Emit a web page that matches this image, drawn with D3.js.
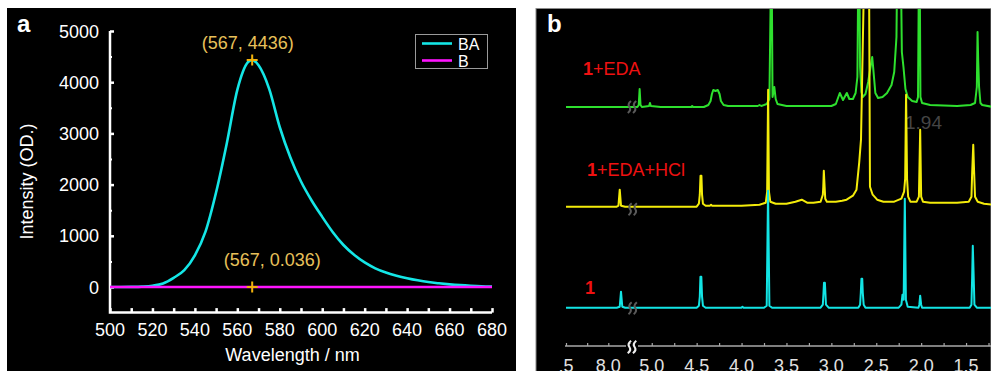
<!DOCTYPE html>
<html>
<head>
<meta charset="utf-8">
<script src="https://cdn.jsdelivr.net/npm/d3@7/dist/d3.min.js"></script>
<style>
  html, body { margin: 0; padding: 0; background: #ffffff; }
  svg { display: block; font-family: "Liberation Sans", Arial, Helvetica, sans-serif; }
</style>
</head>
<body>
<script>
// ---------------- Panel a data ----------------
const wavelengthBA = [500,505,510,515,520,525,530,535,540,545,550,555,560,565,567,570,575,580,585,590,595,600,605,610,615,620,625,630,635,640,645,650,655,660,665,670,675,680];
const intensityBA  = [0,0,2,8,25,70,180,330,620,1080,1850,2800,3850,4390,4436,4330,3870,3120,2530,2060,1690,1370,1070,820,630,480,365,283,222,172,130,96,72,52,36,24,15,10];
const wavelengthB  = [500,567,680];
const intensityB   = [0,0.036,0];
const seriesNames  = ["BA","B"];
const xTicksA      = [500,520,540,560,580,600,620,640,660,680];
const xMinorA      = [510,530,550,570,590,610,630,650,670];
const yTicksA      = [0,1000,2000,3000,4000,5000];
const yMinorA      = [500,1500,2500,3500,4500];
const peakMarks    = [[567,4436,"(567, 4436)"],[567,0.036,"(567, 0.036)"]];

// ---------------- Panel b data (ppm, height) ----------------
const specLabels   = ["1+EDA","1+EDA+HCl","1"];
const specOffsets  = [200.7, 101, 0];
const spec1 = [[8.5,0],[7.9,0],[7.865,1],[7.85,16],[7.835,1],[7.8,0],[7.72,0],[5.22,0],[4.5,0],[4.475,2],[4.465,11],[4.458,31],[4.448,31],[4.44,11],[4.43,2],[4.40,0],[4.0,0],[3.99,1],[3.98,0],[3.75,0],[3.72,2],[3.705,117],[3.69,2],[3.66,0],[3.12,0],[3.095,3],[3.088,14],[3.082,25],[3.072,25],[3.066,14],[3.06,3],[3.03,0],[2.70,0],[2.68,3],[2.672,15],[2.665,29],[2.656,29],[2.65,15],[2.64,3],[2.62,0],[2.25,0],[2.22,3],[2.208,13],[2.195,8],[2.182,109],[2.17,8],[2.15,1],[2.03,0],[2.02,3],[2.011,12],[2.0,3],[1.99,0],[1.46,0],[1.44,3],[1.432,31],[1.425,62],[1.415,31],[1.407,3],[1.38,0],[1.2,0]];
const spec2 = [[8.5,0],[7.9,0],[7.88,1],[7.865,17],[7.85,1],[7.8,0],[7.72,0],[5.22,0],[4.5,0],[4.475,3],[4.465,12],[4.457,31],[4.447,31],[4.44,12],[4.43,3],[4.40,1],[4.35,1],[4.34,2],[4.33,1],[4.0,1],[3.8,2],[3.73,4],[3.715,15],[3.704,117],[3.695,15],[3.68,5],[3.62,3],[3.5,3],[3.4,5],[3.33,7],[3.27,4],[3.2,4],[3.12,5],[3.095,12],[3.09,20],[3.084,36],[3.075,20],[3.068,8],[3.05,5],[2.95,5],[2.88,6],[2.83,7],[2.76,11],[2.72,17],[2.69,44],[2.67,67],[2.615,330],[2.60,340],[2.585,330],[2.57,20],[2.54,12],[2.49,7],[2.42,5],[2.3,5],[2.22,8],[2.19,15],[2.178,28],[2.168,112],[2.157,28],[2.145,10],[2.12,5],[2.05,5],[2.025,10],[2.011,77],[2.0,10],[1.98,5],[1.9,4],[1.6,4],[1.47,5],[1.44,10],[1.432,34],[1.42,62],[1.41,34],[1.40,10],[1.37,5],[1.3,3],[1.2,2]];
const spec3 = [[8.5,0],[7.72,0],[5.22,0],[5.16,0],[5.145,2],[5.135,18],[5.125,2],[5.11,0],[5.03,1],[5.02,4],[5.01,1],[4.9,0],[4.56,0],[4.55,1],[4.54,0],[4.42,0],[4.37,2],[4.345,6],[4.33,13],[4.315,17],[4.29,16],[4.265,17],[4.245,13],[4.23,6],[4.2,2],[4.15,1],[3.82,1],[3.80,2],[3.78,1],[3.72,3],[3.69,8],[3.667,170],[3.655,10],[3.635,20],[3.62,8],[3.6,3],[3.5,1],[3.0,1],[2.95,3],[2.93,8],[2.906,14],[2.87,7],[2.828,14],[2.80,8],[2.76,8],[2.73,14],[2.71,30],[2.694,200],[2.68,40],[2.665,15],[2.65,10],[2.62,13],[2.59,25],[2.555,45],[2.545,50],[2.535,40],[2.51,14],[2.48,9],[2.43,10],[2.38,14],[2.33,22],[2.30,35],[2.275,70],[2.26,200],[2.248,150],[2.234,200],[2.215,55],[2.197,40],[2.175,18],[2.15,10],[2.10,6],[2.05,5],[2.035,10],[2.02,200],[2.008,10],[1.99,4],[1.9,2],[1.6,1],[1.45,2],[1.40,4],[1.38,20],[1.372,75],[1.365,47],[1.355,20],[1.34,4],[1.32,2],[1.2,0]];
const nmrTickValues = [8.5,8.0,5.0,4.5,4.0,3.5,3.0,2.5,2.0,1.5];
const nmrTickLabels = [".5","8.0","5.0","4.5","4.0","3.5","3.0","2.5","2.0","1.5"];
const nmrMinorTicks = [8.25,7.75,4.75,4.25,3.75,3.25,2.75,2.25,1.75,1.25];
const annotation194 = "1.94";

// ---------------- drawing ----------------
const W = 991, H = 371;
const svg = d3.select("body").append("svg").attr("width", W).attr("height", H);
svg.append("rect").attr("x",0).attr("y",0).attr("width",W).attr("height",H).attr("fill","#ffffff");

// ===== Panel a =====
const gA = svg.append("g");
gA.append("rect").attr("x",7).attr("y",8).attr("width",509).attr("height",H-8).attr("fill","#000");
gA.append("text").attr("x",17).attr("y",32).attr("fill","#fff").attr("font-size",24).attr("font-weight","bold").text("a");

const xA = d3.scaleLinear().domain([500,680]).range([110,492]);
const yA = d3.scaleLinear().domain([-500,5000]).range([312.6,31]);

const axisColor = "#ffffff";
gA.append("path").attr("d",`M${xA(500)},${yA(5000)}V${yA(-500)}H${xA(680)}`)
  .attr("fill","none").attr("stroke",axisColor).attr("stroke-width",2.5);

const yAxisA = d3.axisRight(yA).tickValues(yTicksA).tickSize(4).tickFormat("");
const gy = gA.append("g").attr("transform",`translate(${xA(500)},0)`).call(yAxisA);
gy.select(".domain").remove();
gy.selectAll("line").attr("stroke",axisColor).attr("stroke-width",2.5);
const yAxisMinor = d3.axisRight(yA).tickValues(yMinorA).tickSize(2).tickFormat("");
const gym = gA.append("g").attr("transform",`translate(${xA(500)},0)`).call(yAxisMinor);
gym.select(".domain").remove();
gym.selectAll("line").attr("stroke",axisColor).attr("stroke-width",2);
gA.selectAll(".ylab").data(yTicksA).enter().append("text")
  .attr("x",99).attr("y",d=>yA(d)+6.5).attr("text-anchor","end")
  .attr("fill","#fff").attr("font-size",18).text(d=>d);

const xAxisA = d3.axisTop(xA).tickValues(xTicksA.concat(xMinorA)).tickSize(4.5).tickFormat("");
const gx = gA.append("g").attr("transform",`translate(0,${yA(-500)})`).call(xAxisA);
gx.select(".domain").remove();
gx.selectAll("line").attr("stroke",axisColor).attr("stroke-width",2.5);
gA.selectAll(".xlab").data(xTicksA).enter().append("text")
  .attr("x",d=>xA(d)).attr("y",336).attr("text-anchor","middle")
  .attr("fill","#fff").attr("font-size",18).text(d=>d);

gA.append("text").attr("x",292.5).attr("y",361).attr("text-anchor","middle")
  .attr("fill","#fff").attr("font-size",18).text("Wavelength / nm");
gA.append("text").attr("transform","translate(33,181.5) rotate(-90)").attr("text-anchor","middle")
  .attr("fill","#fff").attr("font-size",18).text("Intensity (OD.)");

const lineA = d3.line().x(d=>xA(d[0])).y(d=>yA(d[1])).curve(d3.curveMonotoneX);
const dataBA = wavelengthBA.map((w,i)=>[w,intensityBA[i]]);
const dataB  = wavelengthB.map((w,i)=>[w,intensityB[i]]);
const colBA = "#14e6e6", colB = "#ff14ff";
gA.append("path").datum(dataBA).attr("d",lineA).attr("fill","none").attr("stroke",colBA).attr("stroke-width",2.6);
gA.append("path").datum(dataB).attr("d",d3.line().x(d=>xA(d[0])).y(d=>yA(d[1]))).attr("fill","none").attr("stroke",colB).attr("stroke-width",2.6);

const markCol = "#f2b20c", labCol = "#e8c05a";
peakMarks.forEach((p,i)=>{
  const cx = xA(p[0]), cy = yA(p[1]);
  gA.append("path").attr("d",`M${cx-5.5},${cy}H${cx+5.5}M${cx},${cy-5.5}V${cy+5.5}`)
    .attr("stroke",markCol).attr("stroke-width",2);
  if (i===0) {
    gA.append("text").attr("x",cx-4.5).attr("y",cy-11).attr("text-anchor","middle")
      .attr("fill",labCol).attr("font-size",18).text(p[2]);
  } else {
    gA.append("text").attr("x",cx+20).attr("y",cy-21).attr("text-anchor","middle")
      .attr("fill",labCol).attr("font-size",18).text(p[2]);
  }
});

const lg = gA.append("g");
lg.append("rect").attr("x",415.5).attr("y",34.5).attr("width",72).attr("height",34)
  .attr("fill","#000").attr("stroke","#9a9a9a").attr("stroke-width",1);
[colBA,colB].forEach((c,i)=>{
  const yy = 43.5 + i*17;
  lg.append("line").attr("x1",422).attr("x2",452).attr("y1",yy).attr("y2",yy).attr("stroke",c).attr("stroke-width",2.6);
  lg.append("text").attr("x",458).attr("y",yy+6).attr("fill","#fff").attr("font-size",16).text(seriesNames[i]);
});

// ===== Panel b =====
const gB = svg.append("g");
gB.append("rect").attr("x",536).attr("y",8.5).attr("width",W-536).attr("height",H-8).attr("fill","#000")
  .attr("stroke","#8a8a8a").attr("stroke-width",1);
gB.append("text").attr("x",547).attr("y",32).attr("fill","#fff").attr("font-size",24).attr("font-weight","bold").text("b");

svg.append("defs").append("clipPath").attr("id","clipB").append("rect")
  .attr("x",537).attr("y",9).attr("width",W-537).attr("height",H-9);

const xN = d3.scaleLinear().domain([8.5,7.72,5.22,1.2]).range([566,632,632,993]);
const yN = d3.scaleLinear().domain([0,300]).range([307.7,7.7]);
const breakX = xN(5.22);

gB.append("text").attr("x",905).attr("y",128.5).attr("fill","#454545").attr("font-size",19).text(annotation194);

const specColors = ["#2ee02e","#f4ec0a","#12e4e4"];
const specs = [spec3, spec2, spec1];
const gSpec = gB.append("g").attr("clip-path","url(#clipB)");
specs.forEach((s,i)=>{
  const off = specOffsets[i];
  const ln = d3.line().x(d=>xN(d[0])).y(d=>yN(off + d[1]));
  gSpec.append("path").datum(s).attr("d",ln).attr("fill","none")
    .attr("stroke",specColors[i]).attr("stroke-width",2).attr("stroke-linejoin","round");
});

function breakMark(g, x, y, col, sc) {
  [-2.6, 2.6].forEach(dx=>{
    g.append("path")
      .attr("d",`M${x+dx+1.6*sc},${y-6*sc} Q${x+dx-2.2*sc},${y-3*sc} ${x+dx},${y} T${x+dx-1.6*sc},${y+6*sc}`)
      .attr("fill","none").attr("stroke",col).attr("stroke-width",2*sc);
  });
}
breakMark(gB, breakX, yN(specOffsets[0])+0, "#5a5a5a", 1);
breakMark(gB, breakX+0.7, yN(specOffsets[1])+2.5, "#5a5a5a", 1);
breakMark(gB, breakX+0.7, yN(specOffsets[2])+0.5, "#5a5a5a", 1);

const labelPos = [[583,75],[587,176],[585,294]];
specLabels.forEach((t,i)=>{
  const tx = gB.append("text").attr("x",labelPos[i][0]).attr("y",labelPos[i][1]).attr("fill","#ee1111").attr("font-size",18);
  tx.append("tspan").attr("font-weight","bold").text(t.slice(0,1));
  tx.append("tspan").text(t.slice(1));
});

const axY = 346;
gB.append("line").attr("x1",565).attr("x2",W).attr("y1",axY).attr("y2",axY).attr("stroke","#a8a8a8").attr("stroke-width",1.5);
const nAxis = d3.axisTop(xN).tickValues(nmrTickValues.concat(nmrMinorTicks)).tickSize(3).tickFormat("");
const gnx = gB.append("g").attr("transform",`translate(0,${axY})`).call(nAxis);
gnx.select(".domain").remove();
gnx.selectAll("line").attr("stroke","#a8a8a8").attr("stroke-width",1.2);
gB.selectAll(".nlab").data(nmrTickValues).enter().append("text")
  .attr("x",(d)=>xN(d)).attr("y",371.5).attr("text-anchor","middle")
  .attr("fill","#e2e2e2").attr("font-size",18).text((d,i)=>nmrTickLabels[i]);
gB.append("rect").attr("x",breakX-6).attr("y",axY-2).attr("width",12).attr("height",4).attr("fill","#000");
breakMark(gB, breakX, axY+1, "#eeeeee", 1.05);
</script>
</body>
</html>
